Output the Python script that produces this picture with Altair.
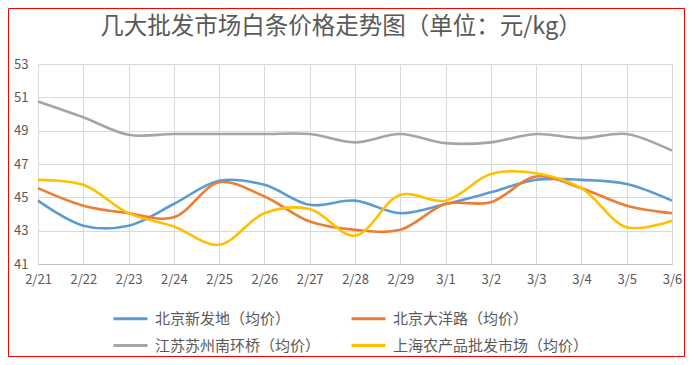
import altair as alt
import pandas as pd

title_text = "几大批发市场白条价格走势图（单位：元/kg）"
dates = ["2/21", "2/22", "2/23", "2/24", "2/25", "2/26", "2/27", "2/28",
         "2/29", "3/1", "3/2", "3/3", "3/4", "3/5", "3/6"]
series_names = ["北京新发地（均价）", "北京大洋路（均价）",
                "江苏苏州南环桥（均价）", "上海农产品批发市场（均价）"]
xinfadi = [44.8, 43.3, 43.3, 44.6, 46.0, 45.75, 44.55, 44.8, 44.05, 44.6, 45.3, 46.05, 46.05, 45.8, 44.8]
dayanglu = [45.55, 44.5, 44.05, 43.8, 45.9, 45.05, 43.55, 43.05, 43.05, 44.6, 44.7, 46.25, 45.55, 44.5, 44.05]
suzhou = [50.75, 49.8, 48.75, 48.8, 48.8, 48.8, 48.8, 48.3, 48.8, 48.25, 48.3, 48.8, 48.55, 48.8, 47.8]
shanghai = [46.05, 45.75, 44.05, 43.25, 42.15, 44.05, 44.3, 42.7, 45.15, 44.8, 46.4, 46.45, 45.55, 43.2, 43.6]
colors = ["#5B9BD5", "#ED7D31", "#A5A5A5", "#FFC000"]
y_ticks = [41, 43, 45, 47, 49, 51, 53]

rows = []
for name, vals in zip(series_names, [xinfadi, dayanglu, suzhou, shanghai]):
    for d, v in zip(dates, vals):
        rows.append({"date": d, "price": v, "market": name})
df = pd.DataFrame(rows)

FONT = "Noto Sans CJK SC"
W, H = 634, 200
PL, PT, PR, PB = 30, 56, 13, 93

lines = alt.Chart(df).mark_line(interpolate="catmull-rom", strokeWidth=2.6).encode(
    x=alt.X("date:O", sort=dates, title=None,
            scale=alt.Scale(type="point", padding=0),
            axis=alt.Axis(labelAngle=0, grid=True, gridColor="#d9d9d9", ticks=False,
                          domainColor="#bfbfbf", labelColor="#595959", labelFontSize=13,
                          labelFont=FONT, labelPadding=9)),
    y=alt.Y("price:Q", title=None,
            scale=alt.Scale(domain=[41, 53], nice=False, zero=False),
            axis=alt.Axis(values=y_ticks, grid=True, gridColor="#d9d9d9", ticks=False,
                          domain=False, labelColor="#595959", labelFontSize=13,
                          labelFont=FONT, labelPadding=10)),
    color=alt.Color("market:N", sort=series_names,
                    scale=alt.Scale(domain=series_names, range=colors),
                    legend=alt.Legend(title=None, orient="none", legendX=74, legendY=236,
                                      direction="horizontal",
                                      columns=2, columnPadding=24, rowPadding=-18,
                                      symbolType="stroke", symbolSize=1156,
                                      symbolStrokeWidth=3, labelFontSize=15,
                                      labelFont=FONT, labelColor="#595959",
                                      labelOffset=6, labelLimit=300)),
)

one = pd.DataFrame({"t": [title_text]})

title = alt.Chart(one).mark_text(
    font=FONT, fontSize=23.5, color="#595959", align="center", baseline="middle"
).encode(text="t:N", x=alt.value(303), y=alt.value(-37))

border = alt.Chart(one).mark_rect(
    fill=None, stroke="#FF0000", strokeWidth=1, clip=False
).encode(
    x=alt.value(-PL + 0.5), x2=alt.value(W + PR - 0.5),
    y=alt.value(-PT + 0.5), y2=alt.value(H + PB - 0.5),
)

chart = alt.layer(lines, title, border).properties(
    width=W, height=H,
    autosize=alt.AutoSizeParams(type="none"),
    padding={"left": PL, "top": PT, "right": PR, "bottom": PB},
).configure_view(stroke=None)

chart.save("out.html", embed_options={"renderer": "svg", "actions": False})
